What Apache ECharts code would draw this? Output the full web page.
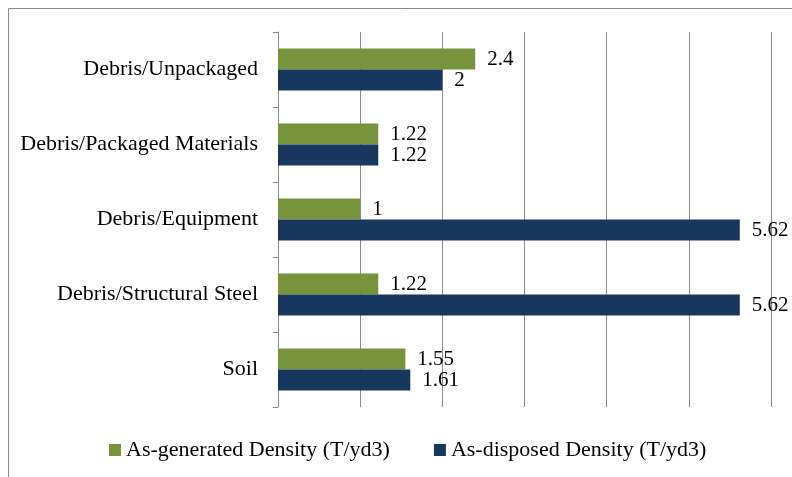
<!DOCTYPE html>
<html><head><meta charset="utf-8">
<script src="https://cdn.jsdelivr.net/npm/echarts@6/dist/echarts.min.js"></script>
<style>html,body{margin:0;padding:0;background:#fff}#c{width:792px;height:477px}</style>
</head><body><div id="c"></div>
<script>
const categories = ['Soil', 'Debris/Structural Steel', 'Debris/Equipment', 'Debris/Packaged Materials', 'Debris/Unpackaged'];
const seriesNames = ['As-generated Density (T/yd3)', 'As-disposed Density (T/yd3)'];
const generated = [1.55, 1.22, 1, 1.22, 2.4];
const disposed = [1.61, 5.62, 5.62, 1.22, 2];
const xTicks = [0, 1, 2, 3, 4, 5, 6];

const FONT = "'Liberation Serif', 'Times New Roman', serif";
const chart = echarts.init(document.getElementById('c'));
const lbl = {show: true, position: 'right', distance: 12, color: '#000', fontFamily: FONT, fontSize: 21};
chart.setOption({
  animation: false,
  graphic: [{type: 'rect', shape: {x: 8.5, y: 8.5, width: 900, height: 600}, style: {fill: 'none', stroke: '#8a8a8a', lineWidth: 1}, silent: true}],
  grid: {left: 278, right: 21, top: 32, bottom: 70, containLabel: false},
  legend: {
    data: seriesNames, left: 109, top: 439, padding: 0, itemWidth: 12, itemHeight: 12, itemGap: 44,
    icon: 'rect', textStyle: {fontFamily: FONT, fontSize: 22, color: '#000'}
  },
  xAxis: {
    type: 'value', min: xTicks[0], max: xTicks[xTicks.length - 1], interval: 1,
    axisLabel: {show: false}, axisLine: {show: false}, axisTick: {show: false},
    splitLine: {show: true, lineStyle: {color: '#8c8c8c', width: 1}}
  },
  yAxis: {
    type: 'category', data: categories,
    axisLine: {show: true, lineStyle: {color: '#8c8c8c'}},
    axisTick: {show: true, length: 5, lineStyle: {color: '#8c8c8c'}},
    axisLabel: {margin: 20, color: '#000', fontFamily: FONT, fontSize: 22}
  },
  series: [
    {name: seriesNames[0], type: 'bar', data: generated, barGap: '0%', barCategoryGap: '44%',
     itemStyle: {color: '#77933C'}, label: lbl},
    {name: seriesNames[1], type: 'bar', data: disposed, barGap: '0%', barCategoryGap: '44%',
     itemStyle: {color: '#17375E'}, label: lbl}
  ]
});
</script></body></html>
